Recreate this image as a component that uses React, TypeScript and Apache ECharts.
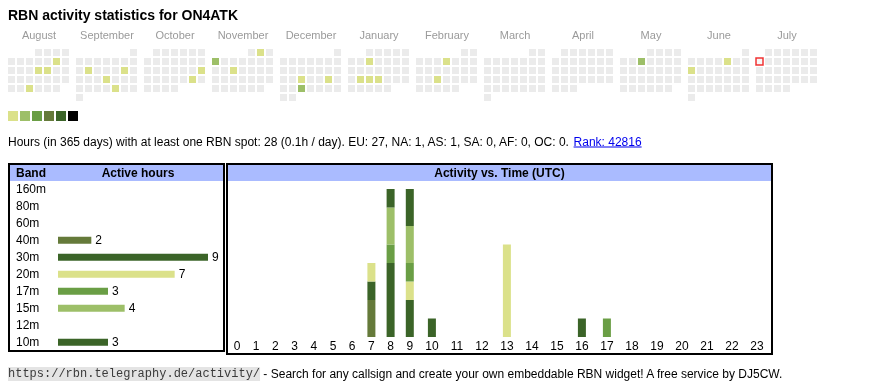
import React, { useEffect, useRef } from 'react';
import * as echarts from 'echarts';

// ---------- data ----------
const callsign = 'ON4ATK';
const monthNames = ['August', 'September', 'October', 'November', 'December', 'January', 'February', 'March', 'April', 'May', 'June', 'July'];
const monthKeys = ['2024-08', '2024-09', '2024-10', '2024-11', '2024-12', '2025-01', '2025-02', '2025-03', '2025-04', '2025-05', '2025-06', '2025-07'];
const levelColors = ['#dbe18a', '#9dbf68', '#6a9e45', '#657a3a', '#3b6428', '#000000'];
const levels = [1, 2, 3, 4, 5, 6];
const emptyColor = '#ebebeb';
const activeDaysLevel1 = [
  '2024-08-10', '2024-08-15', '2024-08-16', '2024-08-28',
  '2024-09-10', '2024-09-14', '2024-09-19', '2024-09-27',
  '2024-10-20', '2024-10-26', '2024-11-02', '2024-11-13',
  '2024-12-18', '2024-12-21', '2025-01-08', '2025-01-21',
  '2025-01-22', '2025-01-23', '2025-02-06', '2025-02-19',
  '2025-06-06', '2025-06-09',
];
const activeDaysLevel2 = ['2024-11-04', '2024-12-25', '2025-05-07'];
const today = '2025-07-07';

const statDays = 365;
const statHours = 28;
const statPerDay = '0.1';
const continents = ['EU', 'NA', 'AS', 'SA', 'AF', 'OC'];
const continentHours = [27, 1, 1, 0, 0, 0];
const rank = 42816;

const bands = ['160m', '80m', '60m', '40m', '30m', '20m', '17m', '15m', '12m', '10m'];
const bandActiveHours = [0, 0, 0, 2, 9, 7, 3, 4, 0, 3];
const bandColors = ['#8a3b3b', '#b8563a', '#c28f3a', '#657a3a', '#3b6428', '#dbe18a', '#6a9e45', '#9dbf68', '#4a7fa0', '#3b6428'];

const hours = ['0', '1', '2', '3', '4', '5', '6', '7', '8', '9', '10', '11', '12', '13', '14', '15', '16', '17', '18', '19', '20', '21', '22', '23'];
//                      0  1  2  3  4  5  6  7  8  9 10 11 12 13 14 15 16 17 18 19 20 21 22 23
const hourly160m = [0, 0, 0, 0, 0, 0, 0, 0, 0, 0, 0, 0, 0, 0, 0, 0, 0, 0, 0, 0, 0, 0, 0, 0];
const hourly80m = [0, 0, 0, 0, 0, 0, 0, 0, 0, 0, 0, 0, 0, 0, 0, 0, 0, 0, 0, 0, 0, 0, 0, 0];
const hourly60m = [0, 0, 0, 0, 0, 0, 0, 0, 0, 0, 0, 0, 0, 0, 0, 0, 0, 0, 0, 0, 0, 0, 0, 0];
const hourly40m = [0, 0, 0, 0, 0, 0, 0, 2, 0, 0, 0, 0, 0, 0, 0, 0, 0, 0, 0, 0, 0, 0, 0, 0];
const hourly30m = [0, 0, 0, 0, 0, 0, 0, 1, 4, 2, 1, 0, 0, 0, 0, 0, 1, 0, 0, 0, 0, 0, 0, 0];
const hourly20m = [0, 0, 0, 0, 0, 0, 0, 1, 0, 1, 0, 0, 0, 5, 0, 0, 0, 0, 0, 0, 0, 0, 0, 0];
const hourly17m = [0, 0, 0, 0, 0, 0, 0, 0, 1, 1, 0, 0, 0, 0, 0, 0, 0, 1, 0, 0, 0, 0, 0, 0];
const hourly15m = [0, 0, 0, 0, 0, 0, 0, 0, 2, 2, 0, 0, 0, 0, 0, 0, 0, 0, 0, 0, 0, 0, 0, 0];
const hourly12m = [0, 0, 0, 0, 0, 0, 0, 0, 0, 0, 0, 0, 0, 0, 0, 0, 0, 0, 0, 0, 0, 0, 0, 0];
const hourly10m = [0, 0, 0, 0, 0, 0, 0, 0, 1, 2, 0, 0, 0, 0, 0, 0, 0, 0, 0, 0, 0, 0, 0, 0];
const hourlyByBand = [hourly160m, hourly80m, hourly60m, hourly40m, hourly30m, hourly20m, hourly17m, hourly15m, hourly12m, hourly10m];

// ---------- helpers ----------
const FONT = '"Liberation Sans", Arial, sans-serif';
const MONO = '"Liberation Mono", "Courier New", monospace';

function measure(text: string, font: string): number {
  const c = document.createElement('canvas').getContext('2d');
  if (!c) return text.length * 6;
  c.font = font;
  return c.measureText(text).width;
}

function pad(n: number) {
  return n < 10 ? '0' + n : '' + n;
}

function monthDays(key: string, level: (d: string) => number): [string, number][] {
  const [y, m] = key.split('-').map(Number);
  const count = new Date(y, m, 0).getDate();
  const out: [string, number][] = [];
  for (let d = 1; d <= count; d++) {
    const s = `${y}-${pad(m)}-${pad(d)}`;
    out.push([s, level(s)]);
  }
  return out;
}

export default function App() {
  const ref = useRef<HTMLDivElement>(null);

  useEffect(() => {
    if (!ref.current) return;
    const chart = echarts.init(ref.current, null, { renderer: 'svg' });

    const levelOf = (d: string) =>
      activeDaysLevel2.includes(d) ? 2 : activeDaysLevel1.includes(d) ? 1 : 0;

    // calendar layout
    const calLeft = 7;
    const calTop = 48;
    const cell = 9;
    const monthPitch = 68;

    const calendars = monthKeys.map((k, i) => ({
      orient: 'vertical',
      left: calLeft + monthPitch * i,
      top: calTop,
      cellSize: [cell, cell],
      range: k,
      dayLabel: { show: false, firstDay: 1 },
      monthLabel: { show: false },
      yearLabel: { show: false },
      splitLine: { show: false },
      itemStyle: { color: 'rgba(0,0,0,0)', borderWidth: 0 },
      silent: true,
    }));

    const heatSeries = monthKeys.map((k, i) => ({
      type: 'heatmap',
      coordinateSystem: 'calendar',
      calendarIndex: i,
      data: monthDays(k, levelOf),
      itemStyle: { borderColor: '#ffffff', borderWidth: 2 },
      emphasis: { disabled: true },
      silent: true,
    }));

    const todaySeries = {
      type: 'scatter',
      coordinateSystem: 'calendar',
      calendarIndex: monthKeys.indexOf(today.slice(0, 7)),
      data: [[today, 1]],
      symbol: 'rect',
      symbolSize: 7,
      itemStyle: { color: '#fafafa', borderColor: '#ee0000', borderWidth: 1.5 },
      silent: true,
      z: 5,
    };

    // band chart
    const bandSeries = {
      type: 'bar',
      xAxisIndex: 0,
      yAxisIndex: 0,
      barWidth: 7,
      data: bandActiveHours.map((v, i) => ({ value: v, itemStyle: { color: bandColors[i] } })),
      label: {
        show: true,
        position: 'right',
        distance: 4,
        fontSize: 12,
        fontFamily: FONT,
        color: '#000',
        formatter: (p: any) => (p.value > 0 ? String(p.value) : ''),
      },
      silent: true,
    };

    // time chart: two grids (single-digit and double-digit hour columns)
    const split = 10;
    const timeSeries: any[] = [];
    [0, 1].forEach((part) => {
      bands.forEach((b, k) => {
        const arr = hourlyByBand[k];
        timeSeries.push({
          type: 'bar',
          name: b,
          xAxisIndex: part + 1,
          yAxisIndex: part + 1,
          stack: 'hours' + part,
          barWidth: 8,
          itemStyle: { color: bandColors[k] },
          data: part === 0 ? arr.slice(0, split) : arr.slice(split),
          silent: true,
        });
      });
    });
    const totals = hours.map((_, h) => hourlyByBand.reduce((s, arr) => s + arr[h], 0));
    const maxTotal = Math.max(...totals);
    const maxBand = Math.max(...bandActiveHours);

    const hourAxisLabel = { fontSize: 12, fontFamily: FONT, color: '#000', margin: 3 };

    // texts
    const statsText =
      `Hours (in ${statDays} days) with at least one RBN spot: ${statHours} (${statPerDay}h / day). ` +
      continents.map((c, i) => `${c}: ${continentHours[i]}`).join(', ') +
      '. ';
    const rankText = `Rank: ${rank}`;
    const statsFont = `12px ${FONT}`;
    const statsW = measure(statsText, statsFont);
    const rankW = measure(rankText, statsFont);

    const urlText = 'https://rbn.telegraphy.de/activity/';
    const urlW = measure(urlText, `12px ${MONO}`);
    const footerText = ' - Search for any callsign and create your own embeddable RBN widget! A free service by DJ5CW.';

    const graphic: any[] = [
      {
        type: 'text', x: 8, y: 15,
        style: { text: `RBN activity statistics for ${callsign}`, fill: '#000', fontSize: 14, fontWeight: 'bold', fontFamily: FONT, verticalAlign: 'middle' },
      },
      ...monthNames.map((m, i) => ({
        type: 'text', x: calLeft + monthPitch * i + 32, y: 34.5,
        style: { text: m, fill: '#9a9a9a', fontSize: 11, fontFamily: FONT, align: 'center', verticalAlign: 'middle' },
      })),
      {
        type: 'text', x: 8, y: 142,
        style: { text: statsText, fill: '#000', fontSize: 12, fontFamily: FONT, verticalAlign: 'middle' },
      },
      {
        type: 'text', x: 8 + statsW, y: 142,
        style: { text: rankText, fill: '#0000ee', fontSize: 12, fontFamily: FONT, verticalAlign: 'middle' },
      },
      {
        type: 'line', shape: { x1: 8 + statsW, y1: 147, x2: 8 + statsW + rankW, y2: 147 },
        style: { stroke: '#0000ee', lineWidth: 1 },
      },
      // band box
      { type: 'rect', shape: { x: 10, y: 165, width: 213, height: 16 }, style: { fill: '#aabbff' }, z: 0 },
      { type: 'rect', shape: { x: 9, y: 164, width: 215, height: 187 }, style: { fill: 'none', stroke: '#000', lineWidth: 2 }, z: 10 },
      {
        type: 'text', x: 16, y: 173,
        style: { text: 'Band', fill: '#000', fontSize: 12, fontWeight: 'bold', fontFamily: FONT, verticalAlign: 'middle' }, z: 11,
      },
      {
        type: 'text', x: 138, y: 173,
        style: { text: 'Active hours', fill: '#000', fontSize: 12, fontWeight: 'bold', fontFamily: FONT, align: 'center', verticalAlign: 'middle' }, z: 11,
      },
      // time box
      { type: 'rect', shape: { x: 228, y: 165, width: 543, height: 16 }, style: { fill: '#aabbff' }, z: 0 },
      { type: 'rect', shape: { x: 227, y: 164, width: 545, height: 190 }, style: { fill: 'none', stroke: '#000', lineWidth: 2 }, z: 10 },
      {
        type: 'text', x: 499.5, y: 173,
        style: { text: 'Activity vs. Time (UTC)', fill: '#000', fontSize: 12, fontWeight: 'bold', fontFamily: FONT, align: 'center', verticalAlign: 'middle' }, z: 11,
      },
      // footer
      {
        type: 'text', x: 8, y: 374,
        style: { text: urlText, fill: '#3a3a3a', fontSize: 12, fontFamily: MONO, verticalAlign: 'middle', backgroundColor: '#e4e4e4', padding: [1, 0, 1, 0] },
      },
      {
        type: 'text', x: 8 + urlW, y: 374,
        style: { text: footerText, fill: '#000', fontSize: 12, fontFamily: FONT, verticalAlign: 'middle' },
      },
    ];

    const option: any = {
      animation: false,
      textStyle: { fontFamily: FONT },
      calendar: calendars,
      visualMap: {
        type: 'piecewise',
        seriesIndex: heatSeries.map((_, i) => i),
        dimension: 1,
        pieces: levels.map((lv, i) => ({ value: lv, color: levelColors[i] })),
        outOfRange: { color: emptyColor },
        orient: 'horizontal',
        left: 8,
        top: 111,
        itemWidth: 10,
        itemHeight: 10,
        itemGap: 2,
        itemSymbol: 'rect',
        showLabel: false,
        selectedMode: false,
        hoverLink: false,
        padding: 0,
      },
      grid: [
        { left: 58, top: 180.8, width: 150, height: 170 },
        { left: 227.4, top: 189, width: 192, height: 148 },
        { left: 419.4, top: 189, width: 350, height: 148 },
      ],
      xAxis: [
        { type: 'value', gridIndex: 0, min: 0, max: maxBand, show: false },
        {
          type: 'category', gridIndex: 1, data: hours.slice(0, split),
          axisLine: { show: false }, axisTick: { show: false }, axisLabel: hourAxisLabel, splitLine: { show: false },
        },
        {
          type: 'category', gridIndex: 2, data: hours.slice(split),
          axisLine: { show: false }, axisTick: { show: false }, axisLabel: hourAxisLabel, splitLine: { show: false },
        },
      ],
      yAxis: [
        {
          type: 'category', gridIndex: 0, data: bands, inverse: true,
          axisLine: { show: false }, axisTick: { show: false }, splitLine: { show: false },
          axisLabel: { align: 'left', margin: 42, fontSize: 12, fontFamily: FONT, color: '#000' },
        },
        { type: 'value', gridIndex: 1, min: 0, max: maxTotal, show: false },
        { type: 'value', gridIndex: 2, min: 0, max: maxTotal, show: false },
      ],
      series: [...heatSeries, todaySeries, bandSeries, ...timeSeries],
      graphic,
    };

    chart.setOption(option);
    return () => chart.dispose();
  }, []);

  return <div ref={ref} style={{ position: 'fixed', left: 0, top: 0, width: 870, height: 390 }} />;
}
